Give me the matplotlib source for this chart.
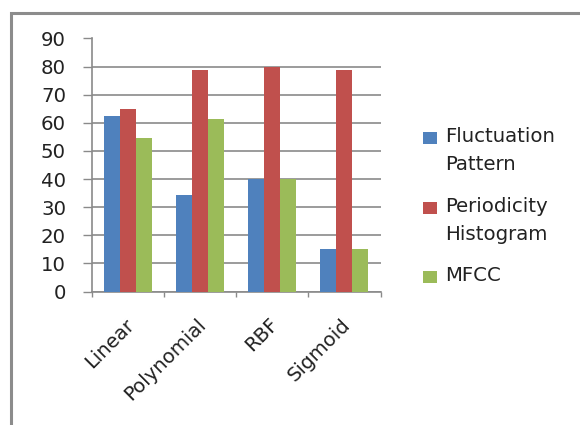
import matplotlib
matplotlib.use("Agg")
import matplotlib.pyplot as plt
from matplotlib.patches import Rectangle
import numpy as np

kernels = ["Linear", "Polynomial", "RBF", "Sigmoid"]
series_names = ["Fluctuation\nPattern", "Periodicity\nHistogram", "MFCC"]
fluctuation = [62.6, 34.3, 40.0, 15.0]
periodicity = [65.0, 78.8, 80.0, 78.8]
mfcc = [54.7, 61.5, 40.0, 15.0]
y_ticks = [0, 10, 20, 30, 40, 50, 60, 70, 80, 90]
colors = ["#4F81BD", "#C0504D", "#9BBB59"]

W, H = 580, 425
DPI = 100
PX = 72 / DPI  # points per pixel
fig = plt.figure(figsize=(W / DPI, H / DPI), dpi=DPI)
fig.patch.set_facecolor("white")

font = "DejaVu Sans"
fs = 14.2
txt_c = "#222222"
grid_c = "#8a8a8a"

# outer chart frame
fig.patches.append(Rectangle((11 / W, -0.05), 1.2, (H - 12.5) / H + 0.05,
                             transform=fig.transFigure, fill=False,
                             edgecolor="#8c8c8c", linewidth=2.2))

ax = fig.add_axes([92 / W, (H - 291.5) / H, (380.5 - 92) / W, (291.5 - 38.5) / H])
x = np.arange(len(kernels))
bw = 1 / 4.5
for i, vals in enumerate([fluctuation, periodicity, mfcc]):
    ax.bar(x + (i - 1) * bw, vals, width=bw, color=colors[i], zorder=3,
           linewidth=0)

ax.set_xlim(-0.5, len(kernels) - 0.5)
ax.set_ylim(0, 90)
ax.set_yticks(y_ticks)
ax.set_yticklabels([str(t) for t in y_ticks], fontsize=fs, family=font,
                   color=txt_c)
ax.yaxis.grid(True, color=grid_c, linewidth=1.2, zorder=0)
ax.tick_params(axis="y", length=9 * PX, width=1, color=grid_c, pad=17 * PX)

ax.set_xticks(np.arange(len(kernels) + 1) - 0.5, minor=True)
ax.set_xticks(x)
ax.set_xticklabels([])
ax.tick_params(axis="x", which="major", length=0)
ax.tick_params(axis="x", which="minor", length=5 * PX, width=1, color=grid_c)

for s in ["top", "right"]:
    ax.spines[s].set_visible(False)
for s in ["left", "bottom"]:
    ax.spines[s].set_color(grid_c)
    ax.spines[s].set_linewidth(1.2)

for xi, lab in zip(x, kernels):
    ax.annotate(lab, xy=(xi, 0), xycoords=("data", "axes fraction"),
                xytext=(3, -30), textcoords="offset pixels",
                rotation=45, rotation_mode="anchor", ha="right", va="center",
                fontsize=fs, family=font, color=txt_c)

# legend, drawn Excel-style with the swatch beside the first line
entry_y = [138, 208, 277]
for name, c, yy in zip(series_names, colors, entry_y):
    fig.patches.append(Rectangle((423 / W, (H - yy - 6) / H), 14 / W, 12 / H,
                                 transform=fig.transFigure, facecolor=c,
                                 edgecolor="none"))
    fig.text(445 / W, (H - yy + 11) / H, name, ha="left", va="top",
             fontsize=fs, family=font, color=txt_c, linespacing=1.6)

fig.savefig("out.png", dpi=DPI)
